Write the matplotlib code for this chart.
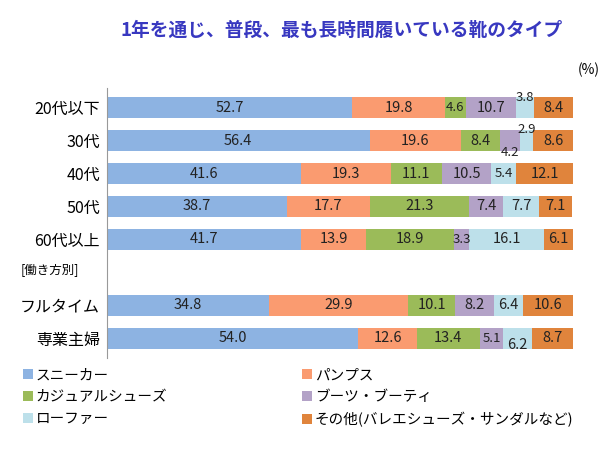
import matplotlib
matplotlib.use('Agg')
import matplotlib.pyplot as plt
import numpy as np

plt.rcParams['font.family'] = ['Noto Sans CJK JP', 'DejaVu Sans']

# データ
groups = ['20代以下', '30代', '40代', '50代', '60代以上', 'フルタイム', '専業主婦']
positions = [0, 1, 2, 3, 4, 6, 7]
series = ['スニーカー', 'パンプス', 'カジュアルシューズ', 'ブーツ・ブーティ', 'ローファー',
          'その他(バレエシューズ・サンダルなど)']
sneakers = [52.7, 56.4, 41.6, 38.7, 41.7, 34.8, 54.0]
pumps = [19.8, 19.6, 19.3, 17.7, 13.9, 29.9, 12.6]
casual = [4.6, 8.4, 11.1, 21.3, 18.9, 10.1, 13.4]
boots = [10.7, 4.2, 10.5, 7.4, 3.3, 8.2, 5.1]
loafer = [3.8, 2.9, 5.4, 7.7, 16.1, 6.4, 6.2]
other = [8.4, 8.6, 12.1, 7.1, 6.1, 10.6, 8.7]

colors = ['#8DB3E2', '#FA9B70', '#9BBB59', '#B3A2C7', '#BDE0EA', '#E0843C']
# 小さい値のラベルをずらす (行, 系列) -> y方向のずれ
label_shift = {(0, 4): -0.3, (1, 3): 0.35, (1, 4): -0.35, (6, 4): 0.2}

fig = plt.figure(figsize=(6.15, 4.55), dpi=100)
ax = fig.add_axes([0.174, 0.213, 0.761, 0.594])

data = [sneakers, pumps, casual, boots, loafer, other]
left = np.zeros(len(groups))
handles = []
for j, (vals, c, name) in enumerate(zip(data, colors, series)):
    vals = np.array(vals)
    h = ax.barh(positions, vals, left=left, height=0.64, color=c, label=name)
    handles.append(h)
    for i, v in enumerate(vals):
        dy = label_shift.get((i, j), 0)
        fs = 10.5 if v >= 5.5 else 9.5
        ax.text(left[i] + v / 2, positions[i] + dy, f'{v:.1f}', ha='center', va='center',
                fontsize=fs, color='#222222')
    left += vals

ax.set_xlim(0, 100.5)
ax.set_ylim(7.6, -0.6)
ax.set_yticks(positions)
ax.set_yticklabels(groups, fontsize=11.5)
ax.set_xticks([])
ax.tick_params(axis='y', length=0, pad=5)
for s in ['top', 'right', 'bottom']:
    ax.spines[s].set_visible(False)
ax.spines['left'].set_color('#999999')

fig.text(0.033, 1 - 270 / 455, '[働き方別]', fontsize=9, va='center', ha='left')
fig.text(0.555, 1 - 30 / 455, '1年を通じ、普段、最も長時間履いている靴のタイプ', fontsize=13.5,
         fontweight='bold', color='#3838C0', ha='center', va='center')
fig.text(0.975, 1 - 70 / 455, '(%)', fontsize=10, ha='right', va='center')

order = [0, 2, 4, 1, 3, 5]
fig.legend([handles[k] for k in order], [series[k] for k in order], ncol=2,
           loc='upper left', bbox_to_anchor=(0.025, 0.207), frameon=False, fontsize=10.5,
           handlelength=0.7, handleheight=0.7, handletextpad=0.2, columnspacing=9.2,
           labelspacing=0.55, borderpad=0)

fig.savefig('out.png', dpi=100)
